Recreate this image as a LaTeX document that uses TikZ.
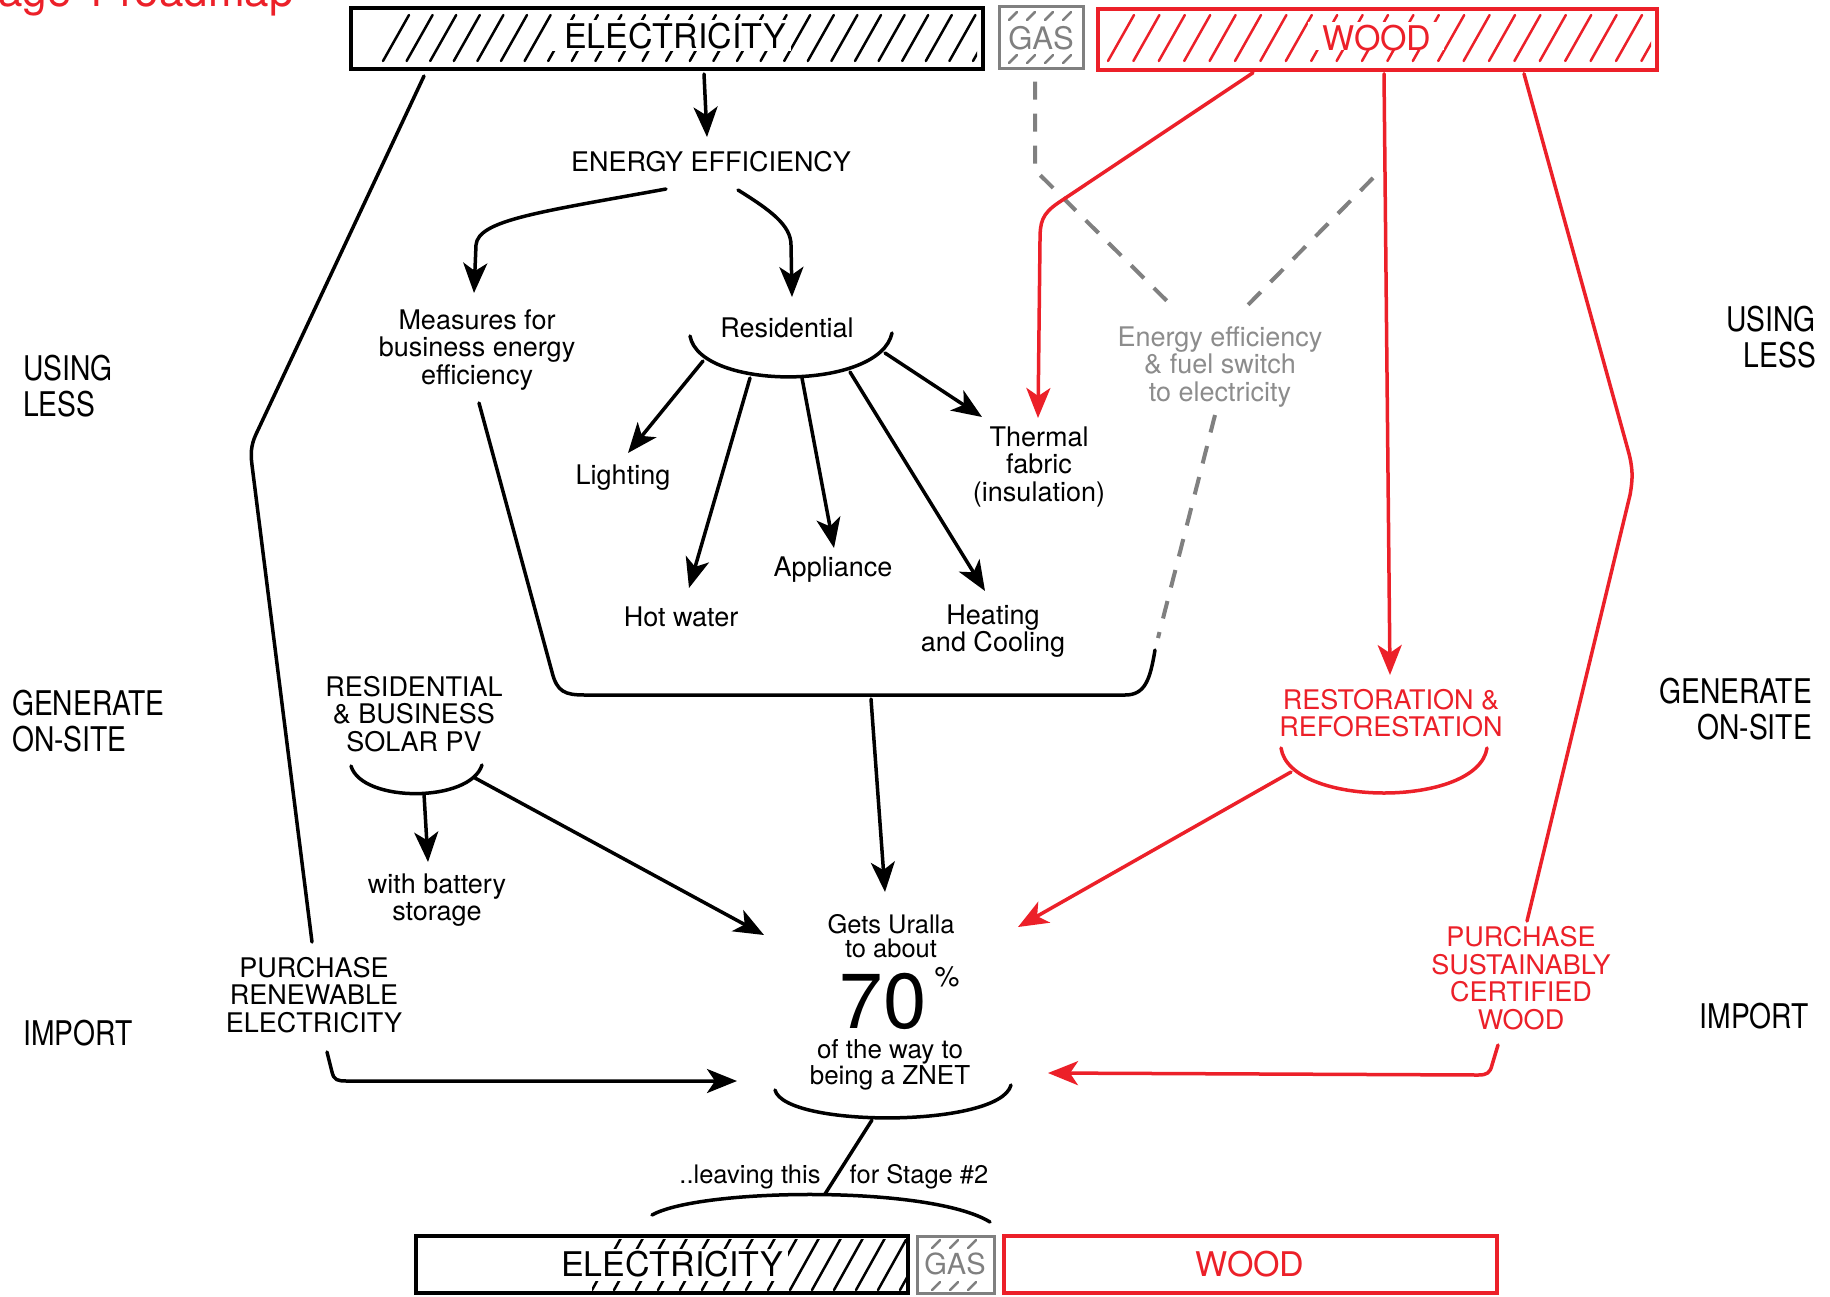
\documentclass[tikz,border=0pt]{standalone}
\usepackage{fontspec}
\setmainfont{TeX Gyre Heros}
\newfontfamily\condf[FakeStretch=0.83]{TeX Gyre Heros}
\usetikzlibrary{arrows.meta,calc}
\definecolor{wred}{RGB}{236,32,41}
\definecolor{ggray}{RGB}{128,128,128}
\definecolor{tgray}{RGB}{140,140,140}
\begin{document}
\begin{tikzpicture}[x=1pt,y=-1pt,
  txt/.style={font=\fontsize{27}{27.5}\selectfont, align=center, inner sep=0pt},
  side/.style={font=\condf\fontsize{34}{36}\selectfont, inner sep=0pt},
  big/.style={font=\fontsize{34}{34}\selectfont, inner sep=0pt},
  ln/.style={line width=3.5pt, line cap=round, line join=round},
  arr/.style={ln, -{Stealth[length=30pt,width=24pt,inset=8pt]}},
  rln/.style={ln, color=wred},
  rarr/.style={arr, color=wred},
  gdash/.style={line width=4pt, draw=ggray, dash pattern=on 18pt off 14pt},
  hatchk/.style={line width=2.5pt, draw=black, line cap=round},
  hatchr/.style={line width=2.5pt, draw=wred, line cap=round},
  hatchg/.style={line width=2.5pt, draw=ggray, line cap=round},
  box/.style={draw, line width=4pt, inner sep=0pt}
]
\useasboundingbox (0,0) rectangle (1830,1296);
\fill[white] (0,0) rectangle (1830,1296);

% title (cut off at top)
\node[anchor=base east, text=wred, font=\fontsize{44}{44}\selectfont, inner sep=0pt] (title) at (294,6) {Stage 1 roadmap};

% ---------- top bars ----------
\begin{scope}
  \clip (357,13) rectangle (977,64);
  \foreach \x in {383,406.6,...,990} \draw[hatchk] (\x,61) -- ++(26,-46);
\end{scope}
\fill[white] (549,20) rectangle (791,51);
\node[big] (elecl) at (675,36) {ELECTRICITY};
\node[box, minimum width=632pt, minimum height=61pt] (elec) at (667,38.5) {};

\foreach \x in {1013,1031,1049,1067} {
  \draw[hatchg] (\x-4,20) -- (\x+4,12);
  \draw[hatchg] (\x-4,63) -- (\x+4,55);
}
\node[inner sep=0pt, text=ggray, font=\fontsize{31}{31}\selectfont] (gasl) at (1041,38) {GAS};
\node[box, draw=ggray, line width=3pt, minimum width=84pt, minimum height=62pt] (gas) at (1041,37) {};

\begin{scope}
  \clip (1104,14) rectangle (1651,65);
  \foreach \x in {1108,1133.4,...,1670} \draw[hatchr] (\x,61) -- ++(26,-46);
\end{scope}
\fill[white] (1308,22) rectangle (1444,50);
\node[big, text=wred] (woodl) at (1377,38) {WOOD};
\node[box, draw=wred, line width=3.5pt, minimum width=559pt, minimum height=61pt] (wood) at (1377.5,39.5) {};

% ---------- bottom bars ----------
\begin{scope}
  \clip (592,1239) rectangle (906,1291);
  \foreach \x in {592,614,...,930} \draw[hatchk] (\x,1290) -- ++(29,-52);
\end{scope}
\fill[white] (586,1249) rectangle (788,1281);
\node[big] (elec2l) at (672,1264) {ELECTRICITY};
\node[box, minimum width=492pt, minimum height=57pt] (elec2) at (662,1264.5) {};

\foreach \x in {936,954,972} {
  \draw[hatchg] (\x-4,1248) -- (\x+4,1240);
  \draw[hatchg] (\x-4,1290) -- (\x+4,1282);
}
\node[inner sep=0pt, text=ggray, font=\fontsize{29}{29}\selectfont] (gas2l) at (955,1264) {GAS};
\node[box, draw=ggray, line width=3pt, minimum width=77pt, minimum height=57pt] (gas2) at (955.5,1264.5) {};

\node[big, text=wred] (wood2l) at (1250,1264) {WOOD};
\node[box, draw=wred, line width=3.5pt, minimum width=493pt, minimum height=57pt] (wood2) at (1250.5,1264.5) {};

% ---------- side labels ----------
\node[side, anchor=west, align=left] (ul) at (23,386) {USING\\LESS};
\node[side, anchor=west, align=left] (gl) at (12,721) {GENERATE\\ON-SITE};
\node[side, anchor=west] (il) at (23,1033) {IMPORT};
\node[side, anchor=east, align=right] (ur) at (1816,337) {USING\\LESS};
\node[side, anchor=east, align=right] (gr) at (1812,709) {GENERATE\\ON-SITE};
\node[side, anchor=east] (ir) at (1809,1016) {IMPORT};

% ---------- text nodes ----------
\node[txt] (ee) at (711,162) {ENERGY EFFICIENCY};
\node[txt] (meas) at (477,350) {Measures for\\business energy\\efficiency};
\node[txt] (res) at (787,328) {Residential};
\node[txt] (light) at (623,478) {Lighting};
\node[txt] (hot) at (681,617) {Hot water};
\node[txt] (appl) at (833,570) {Appliance};
\node[txt] (heat) at (993,631) {Heating\\and Cooling};
\node[txt] (therm) at (1039,467) {Thermal\\fabric\\(insulation)};
\node[txt, text=tgray] (eef) at (1220,367) {Energy efficiency\\\&~fuel switch\\to electricity};
\node[txt] (solar) at (414,714) {RESIDENTIAL\\\&~BUSINESS\\SOLAR PV};
\node[txt] (batt) at (437,900) {with battery\\storage};
\node[txt] (pre) at (314,995) {PURCHASE\\RENEWABLE\\ELECTRICITY};
\node[txt, text=wred] (rest) at (1391,713) {RESTORATION \&\\REFORESTATION};
\node[txt, text=wred] (psw) at (1521,978) {PURCHASE\\SUSTAINABLY\\CERTIFIED\\WOOD};
\node[txt, font=\fontsize{25.5}{24.5}\selectfont] (gets) at (891,936) {Gets Uralla\\to about};
\node[inner sep=0pt, font=\fontsize{78}{78}\selectfont] (seventy) at (883,1001) {70};
\node[inner sep=0pt, font=\fontsize{28}{28}\selectfont] (pct) at (947,977) {\%};
\node[txt, font=\fontsize{26}{24.5}\selectfont] (ofway) at (890,1065) {of the way to\\being a ZNET};
\node[txt, font=\fontsize{25.5}{25.5}\selectfont] (leave) at (750,1177) {..leaving this};
\node[txt, font=\fontsize{25.5}{25.5}\selectfont] (stage) at (919,1177) {for Stage \#2};

% ---------- brackets ----------
\draw[ln] ($(res)+(-97,8)$) .. controls (700,391) and (880,391) .. ($(res)+(105,5)$);
\draw[ln] ($(solar)+(-63,52)$) .. controls (362,803) and (470,803) .. ($(solar)+(68,51)$);
\draw[ln] ($(ofway)+(-115,25)$) .. controls (785,1128) and (1000,1128) .. ($(ofway)+(121,20)$);
\draw[rln] ($(rest)+(-110,35)$) .. controls (1290,808) and (1478,808) .. ($(rest)+(96,35)$);
\coordinate (arcL) at (652,1215);
\coordinate (arcR) at (990,1222);
\draw[ln] (arcL) .. controls (700,1188) and (930,1185) .. (arcR);

% ---------- black connectors ----------
\draw[arr] ($(elec.south)+(37,3)$) -- ($(ee)+(-4,-25)$);
\draw[arr] ($(ee)+(-45,27)$) .. controls (540,212) and (478,220) .. (476,245) -- ($(meas)+(-3,-57)$);
\draw[arr] ($(ee)+(27,28)$) .. controls (770,210) and (791,225) .. (791,245) -- ($(res)+(5,-31)$);
\draw[arr] ($(res)+(-84,33)$) -- ($(light)+(5,-25)$);
\draw[arr] ($(res)+(-37,50)$) -- ($(hot)+(8,-29)$);
\draw[arr] ($(res)+(15,50)$) -- ($(appl)+(1,-22)$);
\draw[arr] ($(res)+(63,44)$) -- ($(heat)+(-8,-40)$);
\draw[arr] ($(res)+(98,25)$) -- ($(therm)+(-57,-50)$);
\draw[ln] ($(meas)+(2,53)$) -- (552,672) .. controls (557,692) and (565,695) .. (585,695)
   -- (1125,695) .. controls (1145,695) and (1150,680) .. ($(eef)+(-65,283)$);
\draw[arr] (871,699) -- ($(gets)+(-6,-44)$);
\draw[ln] ($(elec.south)+(-243,5)$) -- (258,430) .. controls (252,442) and (250,450) .. (252,465) -- ($(pre)+(-2,-53)$);
\draw[arr] ($(pre)+(13,57)$) -- (332,1072) .. controls (334,1080) and (337,1081) .. (347,1081) -- ($(ofway)+(-153,16)$);
\draw[arr] ($(solar)+(10,80)$) -- ($(batt)+(-9,-38)$);
\draw[arr] ($(solar)+(61,64)$) -- ($(gets)+(-127,-1)$);
\draw[ln] ($(ofway)+(-18,55)$) -- (825,1194);

% ---------- gray dashed ----------
\draw[gdash] ($(gas.south)+(-6,12)$) -- (1035,170) -- ($(eef)+(-44,-57)$);
\draw[gdash] (1373,178) -- ($(eef)+(20,-54)$);
\draw[gdash] ($(eef)+(-5,48)$) -- ($(eef)+(-62,271)$);

% ---------- red connectors ----------
\draw[rarr] ($(wood.south)+(-124.5,1)$) -- (1058,203) .. controls (1042,214) and (1040,222) .. (1040,240) -- ($(therm)+(-1,-49)$);
\draw[rarr] ($(wood.south)+(6.5,2)$) -- ($(rest)+(-1,-38)$);
\draw[rarr] ($(rest)+(-100,59)$) -- ($(gets)+(127,-9)$);
\draw[rln] ($(wood.south)+(146.5,2)$) -- (1628,450) .. controls (1633,468) and (1633,478) .. (1630,495) -- ($(psw)+(6,-57)$);
\draw[rarr] ($(psw)+(-23,67)$) -- (1492,1065) .. controls (1490,1073) and (1487,1075) .. (1478,1075) -- ($(ofway)+(158,8)$);

\end{tikzpicture}
\end{document}
